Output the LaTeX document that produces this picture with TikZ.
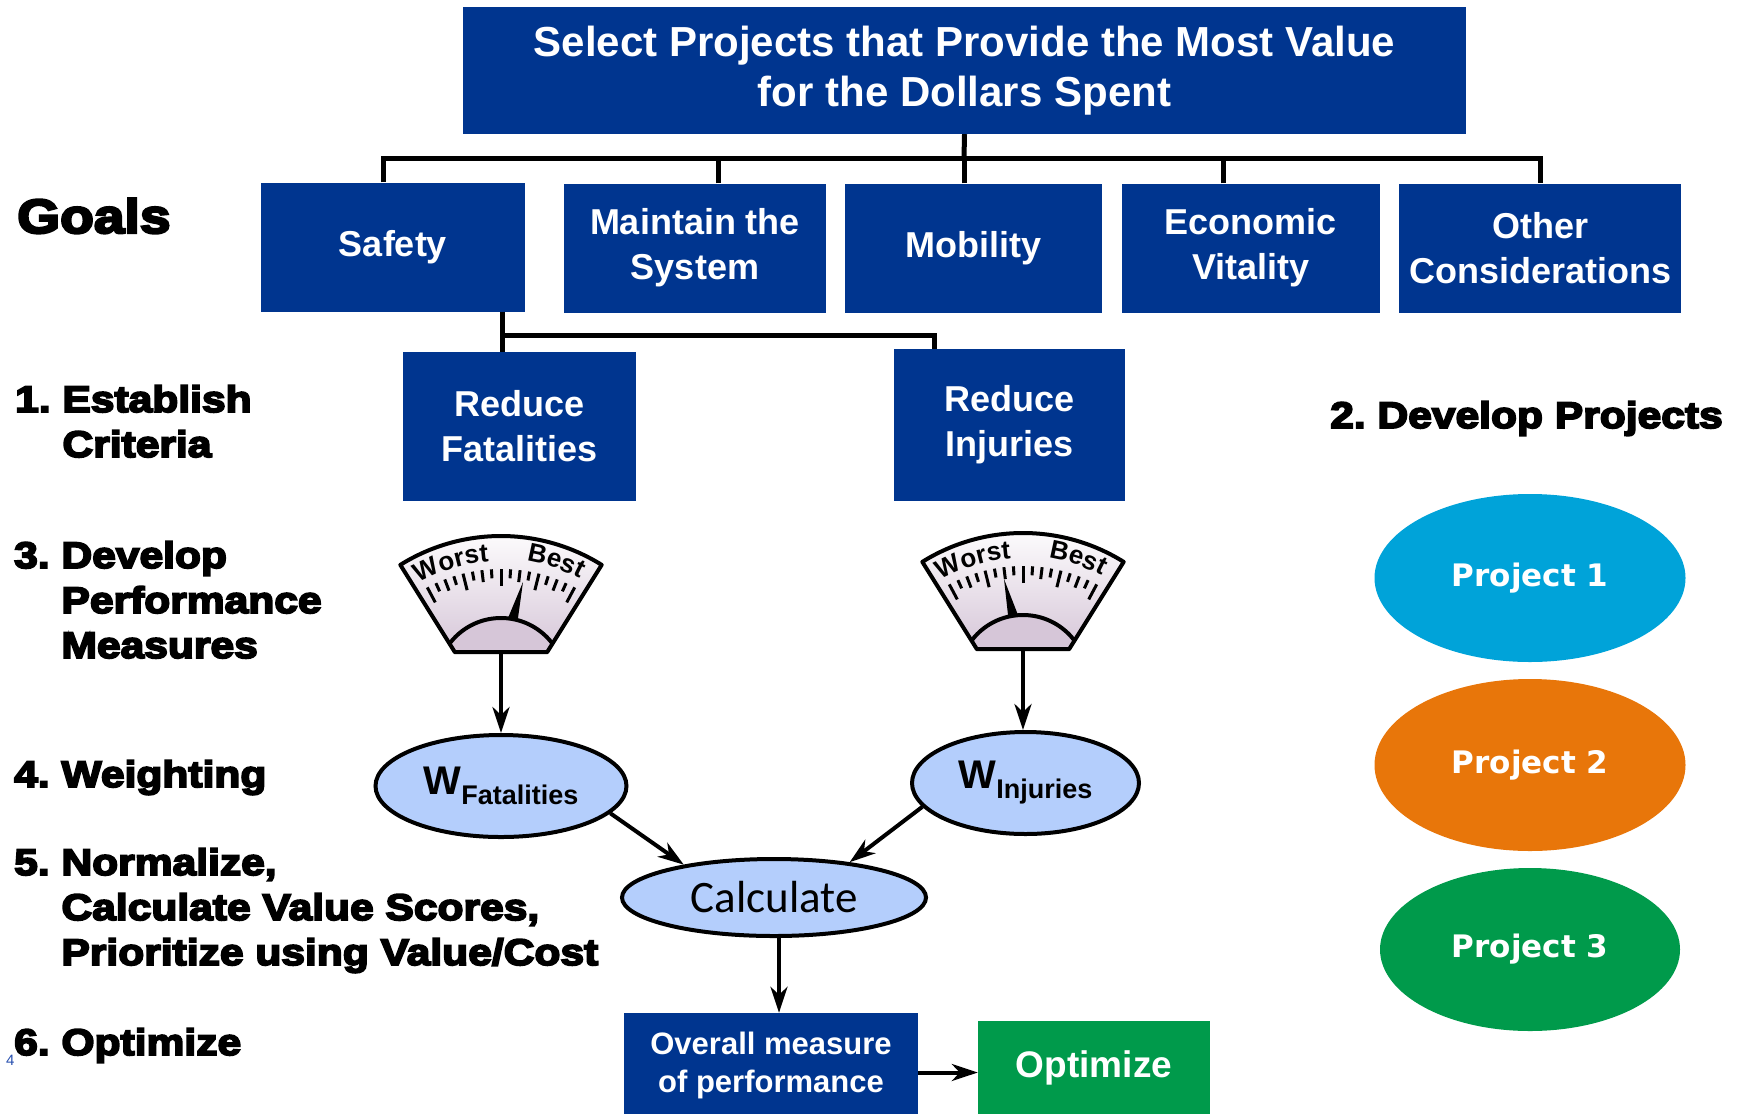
\documentclass[tikz,border=0pt]{standalone}
\usepackage{fontspec}
\setmainfont{Liberation Sans}
\newfontfamily\stepfont{Liberation Sans}[BoldFeatures={FakeBold=5,FakeStretch=1.15}]
\newfontfamily\projfont{DejaVu Sans}
\newfontfamily\calcfont{Carlito}
\usetikzlibrary{positioning,chains,shapes.geometric,arrows.meta,decorations.text}

\definecolor{boxblue}{RGB}{0,53,143}
\definecolor{wblue}{RGB}{180,206,252}
\definecolor{pcyan}{RGB}{0,163,217}
\definecolor{porange}{RGB}{232,118,10}
\definecolor{pgreen}{RGB}{0,154,75}
\definecolor{dialbase}{RGB}{214,198,216}
\definecolor{pagenum}{RGB}{40,80,175}

\newcommand{\gaugefont}{\bfseries\fontsize{26}{26}\selectfont}
% #1 centre of the dial, #2 needle base x, #3 needle tip x
\newcommand{\drawgauge}[3]{%
\begin{scope}[shift={#1},y=1pt]
  \path[top color=white,bottom color=dialbase] (58:87) -- (58:190) arc[start angle=58,end angle=122,radius=190] -- (122:87) -- cycle;
  \begin{scope}
    \clip (58:87) -- (58:190) arc[start angle=58,end angle=122,radius=190] -- (122:87) -- cycle;
    \fill[dialbase] (0,43.5) circle[radius=64.5];
    \draw[line width=4pt] (0,43.5) circle[radius=64.5];
  \end{scope}
  \foreach \k in {0,...,16} {
    \pgfmathsetmacro\a{62+3.5*\k}
    \pgfmathsetmacro\r{mod(\k,4)==0 ? 140 : (mod(\k,2)==0 ? 145 : 148)}
    \draw[line width=3pt] (\a:\r) -- (\a:157);
  }
  \path[decorate,decoration={text along path,text={|\gaugefont|Worst},text align=center}]
    (120:165) arc[start angle=120,end angle=94,radius=165];
  \path[decorate,decoration={text along path,text={|\gaugefont|Best},text align=center}]
    (83:167) arc[start angle=83,end angle=60,radius=167];
  \fill (#2-5,108) -- (#3,144) -- (#2+5,108) -- cycle;
  \draw[line width=4pt,line join=round] (58:87) -- (58:190) arc[start angle=58,end angle=122,radius=190] -- (122:87) -- cycle;
\end{scope}}

\tikzset{
  bluebox/.style={fill=boxblue,text=white,align=center,inner sep=0pt,font=\fontsize{36}{45}\selectfont\bfseries},
  goalbox/.style={bluebox,minimum height=129pt},
  weight/.style={ellipse,draw,line width=4pt,fill=wblue,inner sep=0pt},
  project/.style={ellipse,fill=#1,text=white,inner sep=0pt,font=\projfont\bfseries\fontsize{31}{31}\selectfont},
  steplabel/.style={anchor=base west,inner sep=0pt,align=left,font=\stepfont\bfseries\fontsize{37}{45}\selectfont},
  tree/.style={line width=5pt},
  arr/.style={line width=4pt,-{Stealth[length=26pt,width=17pt,inset=8pt]}}
}

\begin{document}
\begin{tikzpicture}[x=1pt,y=-1pt]
\useasboundingbox (0,0) rectangle (1739,1114);

\node[bluebox,minimum width=1003pt,minimum height=127pt,font=\fontsize{42}{50}\selectfont\bfseries] (title) at (964.5,70.5)
  {Select Projects that Provide the Most Value\\for the Dollars Spent};

% goals
\node[goalbox,minimum width=264pt] (safety) at (393,247) {Safety};
\begin{scope}[start chain=going right,node distance=19pt]
\node[goalbox,on chain,minimum width=262pt] (maint) at (695,248) {Maintain the\\System};
\foreach \n/\w/\txt in {mob/257/{Mobility},econ/258/{Economic\\Vitality},other/282/{Other\\Considerations}}
  \node[goalbox,on chain,minimum width=\w pt] (\n) {\txt};
\end{scope}

\node[bluebox,minimum width=233pt,minimum height=149pt] (fatal) at (519.5,426.5) {Reduce\\Fatalities};
\node[bluebox,minimum width=231pt,minimum height=152pt] (injur) at (1009.5,425) {Reduce\\Injuries};

\coordinate (bus) at (964,158);
\draw[tree] (title.south) -- (bus);
\draw[tree] ([xshift=-10pt]safety.north) |- (bus) -| (other.north);
\foreach \g/\dx in {maint/23,mob/-9,econ/-27}
  \draw[tree] ([xshift=\dx pt]\g.north) |- (bus);

\coordinate (sbus) at (502,335);
\draw[tree] ([xshift=109pt]safety.south) -- ([xshift=-17.5pt]fatal.north);
\draw[tree] (sbus) -| ([xshift=-75.5pt]injur.north);

% gauges
\drawgauge{(501,726)}{12}{22}
\drawgauge{(1023,723)}{-10}{-19}
\node[minimum width=192pt,minimum height=123pt,inner sep=0pt] (gfat) at (501,590.5) {};
\node[minimum width=192pt,minimum height=123pt,inner sep=0pt] (ginj) at (1023,587.5) {};

\node[weight,minimum width=251pt,minimum height=102pt] (wfat) at (501,786)
  {\bfseries\fontsize{40}{40}\selectfont W\raisebox{-10pt}{\fontsize{27}{27}\selectfont Fatalities}};
\node[weight,minimum width=227pt,minimum height=102pt] (winj) at (1025.5,783)
  {\bfseries\fontsize{40}{40}\selectfont W\raisebox{-10pt}{\fontsize{27}{27}\selectfont Injuries}};
\node[weight,minimum width=304pt,minimum height=77pt,font=\calcfont\fontsize{45}{45}\selectfont] (calc) at (774,897.5) {Calculate};

\node[bluebox,minimum width=294pt,minimum height=101pt,font=\fontsize{31}{38}\selectfont\bfseries] (overall) at (771,1063.5)
  {\rule{0pt}{27pt}Overall measure\\of performance};
\node[bluebox,fill=pgreen,minimum width=232pt,minimum height=93pt,font=\fontsize{37}{37}\selectfont\bfseries] (optim) at (1094,1067.5) {Optimize};

\draw[arr] (gfat.south) -- (wfat.north);
\draw[arr] (ginj.south) -- (ginj.south |- winj.north);
\draw[arr] (wfat.-14) -- (calc.160);
\draw[arr] (winj.-167) -- (calc.25);
\draw[arr] ([xshift=5pt]calc.south) -- ([xshift=5pt]calc.south |- overall.north);
\draw[arr] ([yshift=-9pt]overall.east) -- ([yshift=-9pt]overall.east -| optim.west);

% projects
\foreach \i/\y/\w/\h/\c in {1/578/311/168/pcyan,2/765/311/172/porange,3/949.5/300/163/pgreen}
  \node[project=\c,minimum width=\w pt,minimum height=\h pt] (proj\i) at (1530,\y) {Project \i};

% steps (base = last line)
\node[steplabel,font=\stepfont\bfseries\fontsize{48}{48}\selectfont] (goals) at (17,233) {Goals};
\node[steplabel] (criteria) at (15,457) {1.~Establish\\\phantom{1.~}Criteria};
\node[steplabel] (projects) at (1330,428) {2.~Develop Projects};
\node[steplabel] (measures) at (14,658) {3.~Develop\\\phantom{3.~}Performance\\\phantom{3.~}Measures};
\node[steplabel] (weighting) at (14,787) {4.~Weighting};
\node[steplabel] (normalize) at (14,965) {5.~Normalize,\\\phantom{5.~}Calculate Value Scores,\\\phantom{5.~}Prioritize using Value/Cost};
\node[steplabel] (optimize) at (14,1055) {6.~Optimize};
\node[anchor=base west,inner sep=0pt,text=pagenum,font=\fontsize{15}{15}\selectfont] (pagenum) at (6,1065) {4};

\end{tikzpicture}
\end{document}
